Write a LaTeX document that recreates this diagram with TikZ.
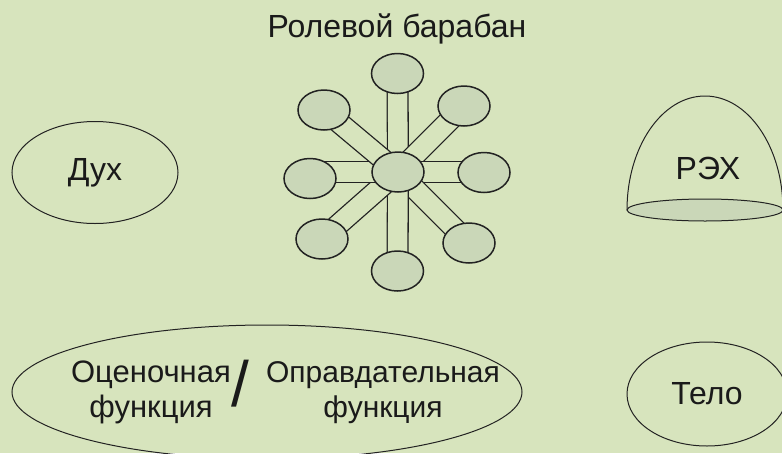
\documentclass[tikz,border=0pt]{standalone}
\usepackage{fontspec}
\setmainfont{Liberation Sans}
\usetikzlibrary{shapes.geometric,backgrounds}
\definecolor{bg}{HTML}{D7E4BD}
\definecolor{drumfill}{HTML}{CAD7B8}
\definecolor{ink}{HTML}{222222}
\definecolor{txtc}{HTML}{1A1A1A}
\begin{document}
\begin{tikzpicture}[x=1pt,y=-1pt,
  txt/.style={text=txtc, font=\fontsize{32}{35}\selectfont, inner sep=0pt},
  drum/.style={ellipse, draw=ink, line width=1.5pt, fill=drumfill,
    minimum width=52pt, minimum height=40pt, inner sep=0pt},
  bar/.style={draw=ink, line width=1.3pt, double=bg, double distance=19.5pt},
  oval/.style={ellipse, draw=ink, line width=1pt, inner sep=0pt,
    text=txtc, font=\fontsize{32}{35}\selectfont}]
\useasboundingbox (0,0) rectangle (782,453);
\begin{pgfonlayer}{background}
  \fill[bg] (0,0) rectangle (782,453);
\end{pgfonlayer}
\clip (0,0) rectangle (782,453);

% title
\node[txt, anchor=base] (title) at (397,37.3) {Ролевой барабан};

% drum
\node[drum] (c)  at (398,172) {};
\node[drum] (o1) at (397.5,73.5) {};
\node[drum] (o2) at (464,106) {};
\node[drum] (o3) at (484,172.5) {};
\node[drum] (o4) at (469,243) {};
\node[drum] (o5) at (397.5,271) {};
\node[drum] (o6) at (322,239) {};
\node[drum] (o7) at (310,178.5) {};
\node[drum] (o8) at (324,110) {};
\begin{pgfonlayer}{background}
  \draw[bar] (c.center) -- (o1.center);
  \draw[bar] (c.center) -- (o2.center);
  \draw[bar] (c.center) -- (c.center -| o3.center);
  \draw[bar] (c.center) -- (o4.center);
  \draw[bar] (c.center) -- (o5.center);
  \draw[bar] (c.center) -- (o6.center);
  \draw[bar] (c.center) -- (c.center -| o7.center);
  \draw[bar] (c.center) -- (o8.center);
\end{pgfonlayer}

% Dukh
\node[oval, minimum width=166pt, minimum height=102pt] (dukh) at (95,172.5) {Дух};

% REKh dome
\draw[ink, line width=1pt] (627,210) arc[start angle=180, end angle=0, x radius=78pt, y radius=114pt];
\node[oval, fill=drumfill, minimum width=156pt, minimum height=22pt] (base) at (705,210) {};
\node[txt] (rekh) at (708,168) {РЭХ};

% Telo
\node[oval, minimum width=160pt, minimum height=104pt] (telo) at (707,394) {Тело};

% functions
\node[oval, minimum width=510pt, minimum height=134pt] (func) at (267,392) {};
\node[txt, align=center, font=\fontsize{31}{35}\selectfont] (ots) at (151,392.3) {Оценочная\\функция};
\node[txt, font=\fontsize{64}{64}\selectfont, anchor=base] (slash) at (240.5,406.5) {/};
\node[txt, align=center, font=\fontsize{30}{35}\selectfont] (opr) at (383,392.8) {Оправдательная\\функция};
\end{tikzpicture}
\end{document}
